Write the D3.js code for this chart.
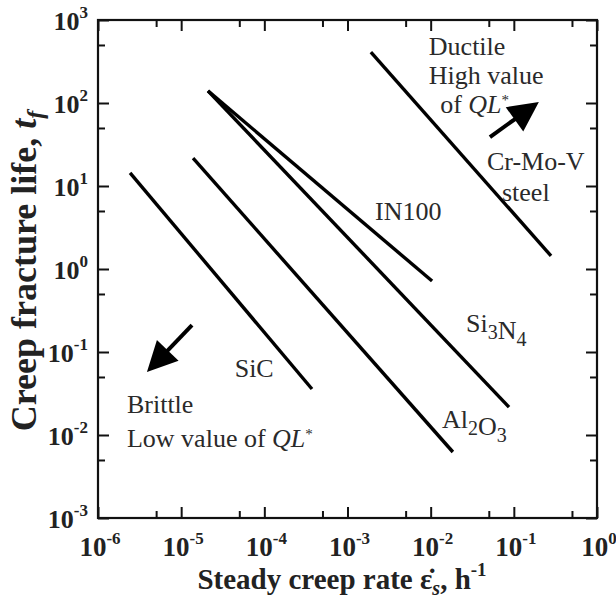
<!DOCTYPE html>
<html lang="en">
<head>
<meta charset="utf-8">
<title>Creep fracture life vs steady creep rate</title>
<script src="https://cdn.jsdelivr.net/npm/d3@7"></script>
<style>
  body { margin: 0; background: #fff; }
</style>
</head>
<body>
<div id="chart"></div>
<script>
// tick values
var xTicks = [1e-6, 1e-5, 1e-4, 1e-3, 1e-2, 1e-1, 1e0];
var yTicks = [1e-3, 1e-2, 1e-1, 1e0, 1e1, 1e2, 1e3];

// material lines: start/end creep rate (h^-1) and fracture life
var materials = ["SiC", "Al2O3", "Si3N4", "IN100", "Cr-Mo-V"];
var rateStart = [2.43e-6, 1.39e-5, 2.1e-5, 2.1e-5, 1.91e-3];
var rateEnd   = [3.74e-4, 1.85e-2, 8.75e-2, 1.04e-2, 0.28];
var lifeStart = [14.4, 21.7, 140, 140, 411];
var lifeEnd   = [0.0358, 0.00624, 0.0217, 0.716, 1.44];

// arrows (tail -> tip)
var arrowTail = [[0.0516, 38.9], [1.35e-5, 0.211]];
var arrowTip  = [[0.2, 103], [3.88e-6, 0.0574]];

// text labels in data coords
var labelText = ["Ductile", "High value", "of |QL|*", "Cr-Mo-V", "steel", "IN100",
                 "Si_3N_4", "Al_2O_3", "SiC", "Brittle", "Low value of |QL|*"];
var labelX = [9.5e-3, 9.5e-3, 1.3e-2, 4.75e-2, 7.2e-2, 2.14e-3, 2.66e-2, 1.37e-2, 4.4e-5, 2.23e-6, 2.23e-6];
var labelY = [378, 169, 76, 15.6, 6.6, 3.9, 0.174, 0.0121, 0.05, 0.0184, 0.00716];

var w = 616, h = 598;
var m = {left: 98, right: 597, top: 20, bottom: 518};
var serif = "'Liberation Serif', 'Times New Roman', Times, serif";

var x = d3.scaleLog().domain([1e-6, 1]).range([m.left, m.right]);
var y = d3.scaleLog().domain([1e-3, 1e3]).range([m.bottom, m.top]);

var svg = d3.select("#chart").append("svg")
    .attr("width", w).attr("height", h)
    .attr("font-family", serif);

// minor ticks at 5 x 10^n
var xMinor = xTicks.slice(0, -1).map(function(d) { return d * 5; });
var yMinor = yTicks.slice(0, -1).map(function(d) { return d * 5; });

function tickAxis(axisFn, scale, vals, size, tr) {
    svg.append("g")
        .attr("transform", tr)
        .call(axisFn(scale).tickValues(vals).tickSize(size).tickFormat(""))
        .call(function(g) {
            g.select(".domain").remove();
            g.selectAll("line").attr("stroke", "#111").attr("stroke-width", 2);
        });
}
// inward ticks on all four sides
tickAxis(d3.axisTop, x, xTicks, 11, "translate(0," + m.bottom + ")");
tickAxis(d3.axisTop, x, xMinor, 7, "translate(0," + m.bottom + ")");
tickAxis(d3.axisBottom, x, xTicks, 11, "translate(0," + m.top + ")");
tickAxis(d3.axisBottom, x, xMinor, 7, "translate(0," + m.top + ")");
tickAxis(d3.axisRight, y, yTicks, 11, "translate(" + m.left + ",0)");
tickAxis(d3.axisRight, y, yMinor, 7, "translate(" + m.left + ",0)");
tickAxis(d3.axisLeft, y, yTicks, 11, "translate(" + m.right + ",0)");
tickAxis(d3.axisLeft, y, yMinor, 7, "translate(" + m.right + ",0)");

svg.append("rect")
    .attr("x", m.left).attr("y", m.top)
    .attr("width", m.right - m.left).attr("height", m.bottom - m.top)
    .attr("fill", "none").attr("stroke", "#111").attr("stroke-width", 2.2);

// power-of-ten tick labels
function powLabel(sel, d) {
    var e = Math.round(Math.log10(d));
    sel.append("tspan").text("10");
    sel.append("tspan").attr("dy", -12).attr("font-size", 17).text(e);
}
svg.selectAll(".xl").data(xTicks).enter().append("text")
    .attr("class", "xl")
    .attr("x", function(d) { return x(d) + 2; })
    .attr("y", 556)
    .attr("text-anchor", "middle")
    .attr("font-weight", "bold").attr("font-size", 27).attr("fill", "#222")
    .each(function(d) { powLabel(d3.select(this), d); });

svg.selectAll(".yl").data(yTicks).enter().append("text")
    .attr("class", "yl")
    .attr("x", 88)
    .attr("y", function(d) { return y(d) + 10; })
    .attr("text-anchor", "end")
    .attr("font-weight", "bold").attr("font-size", 26).attr("fill", "#222")
    .each(function(d) { powLabel(d3.select(this), d); });

// axis titles
var xt = svg.append("text")
    .attr("x", 342).attr("y", 589)
    .attr("text-anchor", "middle")
    .attr("font-weight", "bold").attr("font-size", 29).attr("fill", "#222");
xt.append("tspan").text("Steady creep rate  ");
xt.append("tspan").text("\u03B5\u0307");
xt.append("tspan").attr("font-size", 20).attr("font-style", "italic").attr("dy", 6).text("s");
xt.append("tspan").attr("dy", -6).text(", h");
xt.append("tspan").attr("font-size", 19).attr("dy", -13).text("-1");

var yt = svg.append("text")
    .attr("transform", "translate(36,271) rotate(-90)")
    .attr("text-anchor", "middle")
    .attr("font-weight", "bold").attr("font-size", 36).attr("fill", "#222");
yt.append("tspan").text("Creep fracture life, ");
yt.append("tspan").attr("font-style", "italic").text("t");
yt.append("tspan").attr("font-style", "italic").attr("font-size", 24).attr("dy", 7).text("f");

// material lines
var lines = materials.map(function(name, i) {
    return {name: name, x1: rateStart[i], y1: lifeStart[i], x2: rateEnd[i], y2: lifeEnd[i]};
});
svg.selectAll(".mat").data(lines).enter().append("line")
    .attr("class", "mat")
    .attr("x1", function(d) { return x(d.x1); })
    .attr("y1", function(d) { return y(d.y1); })
    .attr("x2", function(d) { return x(d.x2); })
    .attr("y2", function(d) { return y(d.y2); })
    .attr("stroke", "#000").attr("stroke-width", 3.4);

// arrows
arrowTail.forEach(function(t, i) {
    var x0 = x(t[0]), y0 = y(t[1]);
    var x1 = x(arrowTip[i][0]), y1 = y(arrowTip[i][1]);
    var dx = x1 - x0, dy = y1 - y0, L = Math.sqrt(dx * dx + dy * dy);
    var ux = dx / L, uy = dy / L;
    var hl = 30, hw = 15;
    var bx = x1 - ux * hl, by = y1 - uy * hl;
    svg.append("line")
        .attr("x1", x0).attr("y1", y0).attr("x2", bx + ux * 2).attr("y2", by + uy * 2)
        .attr("stroke", "#000").attr("stroke-width", 4);
    svg.append("path")
        .attr("d", "M" + x1 + "," + y1 +
            "L" + (bx - uy * hw) + "," + (by + ux * hw) +
            "L" + (bx + uy * hw) + "," + (by - ux * hw) + "Z")
        .attr("fill", "#000");
});

// annotation text: _n = subscript, |..| = italic, * = superscript
labelText.forEach(function(s, i) {
    var t = svg.append("text")
        .attr("x", x(labelX[i])).attr("y", y(labelY[i]))
        .attr("font-size", 26).attr("fill", "#2a2a2a");
    var parts = s.split(/(_\d|\|[^|]+\||\*)/).filter(function(p) { return p !== ""; });
    parts.forEach(function(p) {
        if (p[0] === "_") {
            t.append("tspan").attr("dy", 7).attr("font-size", 20).text(p[1]);
            t.append("tspan").attr("dy", -7).text("");
        } else if (p[0] === "|") {
            t.append("tspan").attr("font-style", "italic").text(p.slice(1, -1));
        } else if (p === "*") {
            t.append("tspan").attr("dy", -8).attr("font-size", 15).text("*");
        } else {
            t.append("tspan").text(p);
        }
    });
});
</script>
</body>
</html>
